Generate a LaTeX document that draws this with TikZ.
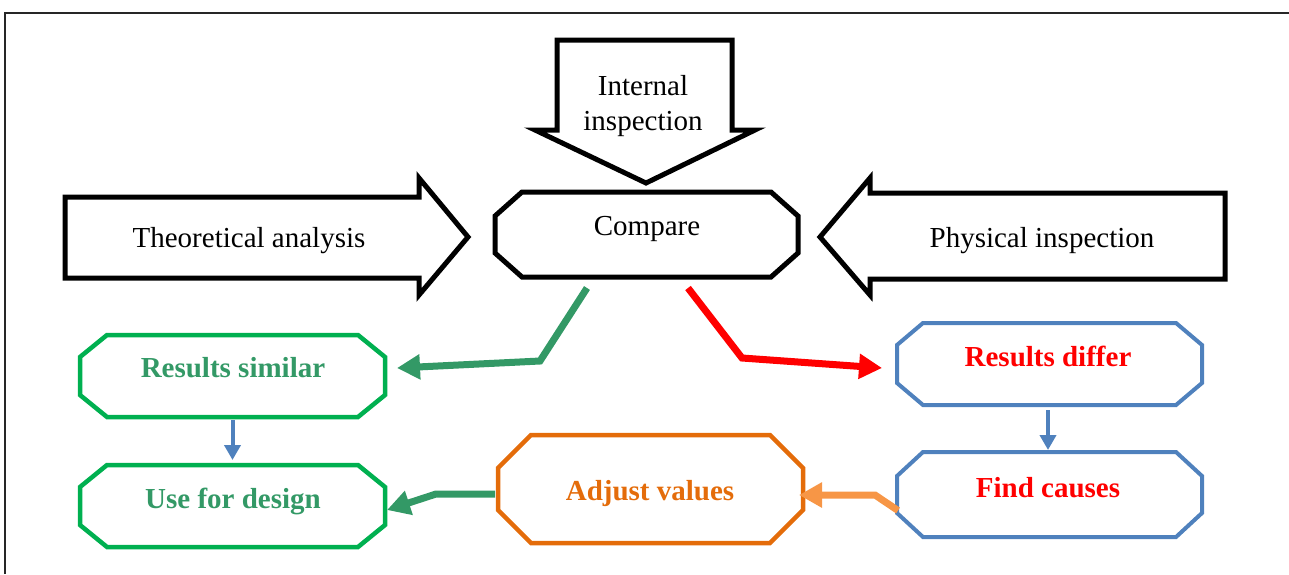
\documentclass[tikz,border=0pt]{standalone}
\usepackage{fontspec}
\setmainfont{Liberation Serif}
\usetikzlibrary{arrows.meta,calc}

\definecolor{boxgreen}{HTML}{00B050}
\definecolor{textgreen}{HTML}{339966}
\definecolor{boxblue}{HTML}{4F81BD}
\definecolor{alertred}{HTML}{FF0000}
\definecolor{boxorange}{HTML}{E46C0A}
\definecolor{lightorange}{HTML}{F79646}

% octagonal outline around a (draw=none) rectangle node
\newcommand\drawoct[4]{%
  \draw[#1] ([xshift=#3]#2.north west) -- ([xshift=-#3]#2.north east)
    -- ([yshift=-#4]#2.north east) -- ([yshift=#4]#2.south east)
    -- ([xshift=-#3]#2.south east) -- ([xshift=#3]#2.south west)
    -- ([yshift=#4]#2.south west) -- ([yshift=-#4]#2.north west) -- cycle;}

\begin{document}
\begin{tikzpicture}[x=1pt,y=-1pt,
  every node/.style={font=\fontsize{29}{33}\selectfont},
  area/.style={rectangle,draw=none,inner sep=0pt,outer sep=0pt},
  txt/.style={anchor=base,inner sep=0pt},
  boldtxt/.style={txt,font=\fontsize{29}{33}\selectfont\bfseries},
  blockarrow/.style={draw=black,line width=5pt,fill=white},
  octline/.style={line width=#1,line join=miter},
  flow/.style={line width=7pt,line join=miter,-{Triangle[length=23pt,width=24pt]}},
  drop/.style={line width=4pt,draw=boxblue,-{Triangle[length=15pt,width=16pt]}}
]
\useasboundingbox (0,0) rectangle (1289,574);

% page frame (top and left edges)
\draw[line width=2.5pt,black!85] (5,574) -- (5,13) -- (1289,13);

% input block arrows
\draw[blockarrow] (557,40) -- (732,40) -- (732,130) -- (755,130) -- (646,183)
  -- (535,130) -- (557,130) -- cycle;
\node[txt] (internalA) at (643,95) {Internal};
\node[txt] (internalB) at (643,130) {inspection};

\draw[blockarrow] (65,197) -- (419,197) -- (419,178) -- (468,237) -- (419,295)
  -- (419,278) -- (65,278) -- cycle;
\node[txt] (theory) at (249,247) {Theoretical analysis};

\draw[blockarrow] (1225,193) -- (870,193) -- (870,178) -- (820,237) -- (870,295)
  -- (870,279) -- (1225,279) -- cycle;
\node[txt] (physical) at (1042,247) {Physical inspection};

% octagonal boxes
\node[area,minimum width=303pt,minimum height=85pt] (cmp) at (646.5,234.5) {};
\drawoct{octline=5pt,draw=black}{cmp}{27pt}{24pt}
\node[txt] (cmpT) at (647,235) {Compare};

\node[area,minimum width=305pt,minimum height=82pt] (sim) at (232.5,376) {};
\drawoct{octline=4.5pt,draw=boxgreen}{sim}{27pt}{22pt}
\node[boldtxt,text=textgreen] (simT) at (233,377) {Results similar};

\node[area,minimum width=305pt,minimum height=82pt] (use) at (232.5,506) {};
\drawoct{octline=4.5pt,draw=boxgreen}{use}{27pt}{22pt}
\node[boldtxt,text=textgreen] (useT) at (233,508) {Use for design};

\node[area,minimum width=305pt,minimum height=82pt] (dif) at (1049.5,364) {};
\drawoct{octline=4pt,draw=boxblue}{dif}{26pt}{22pt}
\node[boldtxt,text=alertred] (difT) at (1048,366) {Results differ};

\node[area,minimum width=305pt,minimum height=85pt] (cau) at (1049.5,494.5) {};
\drawoct{octline=4pt,draw=boxblue}{cau}{26pt}{24pt}
\node[boldtxt,text=alertred] (cauT) at (1048,497) {Find causes};

\node[area,minimum width=305pt,minimum height=108pt] (adj) at (650.5,489) {};
\drawoct{octline=4.5pt,draw=boxorange}{adj}{33pt}{33pt}
\node[boldtxt,text=boxorange] (adjT) at (650,500) {Adjust values};

% connectors
\draw[flow,draw=textgreen]
  ($(cmp.south)+(-59.5,11)$) -- (540,361) -- ($(sim.east)+(12,-8)$);
\draw[flow,draw=alertred]
  ($(cmp.south)+(41.5,11)$) -- (742,358) -- ($(dif.west)+(-15,4)$);
\draw[drop] ($(sim.south)+(0,3)$) -- ($(use.north)+(0,-5)$);
\draw[drop] ($(dif.south)+(-1.5,5)$) -- ($(cau.north)+(-1.5,-2)$);
\draw[flow,draw=lightorange]
  ($(cau.west)+(1,16)$) -- (875,495) -- ($(adj.east)+(-4,6)$);
\draw[flow,draw=textgreen]
  ($(adj.west)+(-3,5)$) -- (436,494) -- ($(use.east)+(2,4)$);
\end{tikzpicture}
\end{document}
